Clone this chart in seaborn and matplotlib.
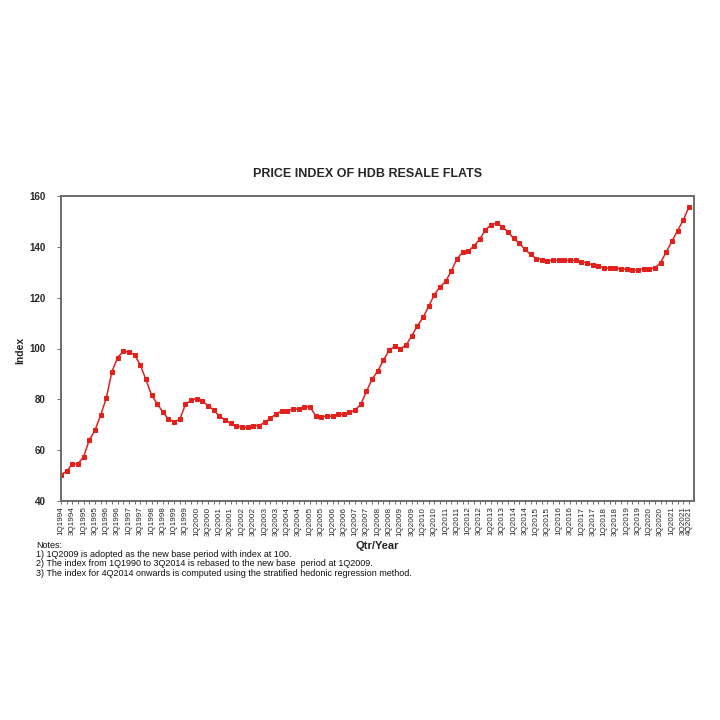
import numpy as np
import pandas as pd
import matplotlib
matplotlib.use("Agg")
import matplotlib.pyplot as plt
import seaborn as sns

# quarterly index values, 1Q1994 .. 4Q2021
years = list(range(1994, 2022))
index_values = [
    50.4, 51.7, 54.6, 54.6, 57.4, 64.0, 67.8, 73.7,
    80.4, 90.9, 96.4, 98.9, 98.6, 97.5, 93.6, 87.9,
    81.7, 78.3, 75.0, 72.2, 71.2, 72.1, 78.0, 79.7,
    80.3, 79.3, 77.5, 75.8, 73.3, 72.0, 70.5, 69.6,
    69.1, 69.1, 69.7, 69.7, 70.9, 72.5, 74.3, 75.3,
    75.5, 76.1, 76.3, 77.1, 77.1, 73.6, 73.2, 73.4,
    73.4, 74.2, 74.1, 74.9, 75.8, 78.0, 83.2, 87.9,
    91.2, 95.4, 99.3, 100.9, 100.0, 101.3, 105.0, 108.9,
    112.2, 116.6, 121.2, 124.3, 126.4, 130.5, 135.3, 137.9,
    138.4, 140.3, 142.9, 146.6, 148.6, 149.3, 148.0, 145.8,
    143.4, 141.4, 139.1, 137.0, 135.4, 135.0, 134.6, 134.7,
    134.7, 134.7, 134.7, 134.7, 133.9, 133.8, 132.8, 132.6,
    131.6, 131.6, 131.6, 131.4, 131.1, 130.8, 130.9, 131.4,
    131.4, 131.7, 133.8, 138.0, 142.2, 146.4, 150.5, 155.7,
]
quarters = [f"{q}Q{y}" for y in years for q in range(1, 5)]
y_ticks = [40, 60, 80, 100, 120, 140, 160]

notes = [
    "Notes:",
    "1) 1Q2009 is adopted as the new base period with index at 100.",
    "2) The index from 1Q1990 to 3Q2014 is rebased to the new base  period at 1Q2009.",
    "3) The index for 4Q2014 onwards is computed using the stratified hedonic regression method.",
]

df = pd.DataFrame({"quarter": quarters, "index": index_values})
df["pos"] = np.arange(len(df))

sns.set_theme(style="white")
plt.rcParams["font.family"] = ["Liberation Sans", "DejaVu Sans"]

fig = plt.figure(figsize=(7.2, 7.2), dpi=100)
ax = fig.add_axes([61 / 720, 1 - 501 / 720, 633 / 720, 305 / 720])

red = "#e3211c"
sns.lineplot(data=df, x="pos", y="index", ax=ax, color=red, linewidth=1.1,
             marker="s", markersize=3.2, markeredgecolor=red, markerfacecolor=red)

ax.set_xlim(0, len(df) - 1 + 0.9)
ax.set_ylim(40, 160)
ax.set_yticks(y_ticks)
ax.set_yticklabels([str(v) for v in y_ticks], fontsize=7, fontweight="bold")

# labels every second quarter, plus the last one
label_pos = list(range(0, len(df), 2)) + [len(df) - 1]
ax.set_xticks(df["pos"], minor=True)
ax.set_xticks(label_pos)
ax.set_xticklabels([quarters[i] for i in label_pos], rotation=90, fontsize=5.9)
ax.tick_params(axis="x", which="both", direction="out", length=2.5, width=0.6,
               color="#555555", pad=1.5, bottom=True)
ax.tick_params(axis="y", direction="out", length=3, width=0.6, color="#555555",
               pad=8, left=True)

for s in ax.spines.values():
    s.set_color("#6b6b6b")
    s.set_linewidth(1.4)

ax.set_xlabel("")
ax.set_ylabel("")
fig.text(20 / 720, 1 - 350 / 720, "Index", rotation=90, fontsize=7.5,
         fontweight="bold", ha="center", va="center")
fig.text(377 / 720, 1 - 546 / 720, "Qtr/Year", fontsize=8,
         fontweight="bold", ha="center", va="center")
fig.text(368 / 720, 1 - 174 / 720, "PRICE INDEX OF HDB RESALE FLATS",
         fontsize=9, fontweight="bold", ha="center", va="center")

for i, line in enumerate(notes):
    fig.text(36 / 720, 1 - (545 + i * 9.4) / 720, line, fontsize=6.5,
             ha="left", va="center", color="#111111")

fig.savefig("out.png", dpi=100, facecolor="white")
